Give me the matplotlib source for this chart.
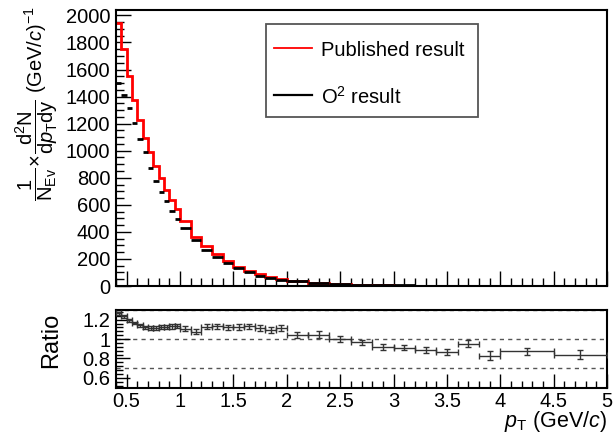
import matplotlib
matplotlib.use("Agg")
import matplotlib.pyplot as plt
from matplotlib.lines import Line2D
from matplotlib.patches import Rectangle
from matplotlib.ticker import MultipleLocator, FormatStrFormatter, FuncFormatter
import numpy as np

plt.rcParams['font.family'] = ['Liberation Sans', 'DejaVu Sans']
plt.rcParams['mathtext.fontset'] = 'custom'
plt.rcParams['mathtext.rm'] = 'Liberation Sans'
plt.rcParams['mathtext.it'] = 'Liberation Sans:italic'
plt.rcParams['mathtext.bf'] = 'Liberation Sans:bold'

# bin edges (GeV/c)
bin_edges = [0.40, 0.45, 0.50, 0.55, 0.60, 0.65, 0.70, 0.75, 0.80, 0.85, 0.90, 0.95,
             1.0, 1.1, 1.2, 1.3, 1.4, 1.5, 1.6, 1.7, 1.8, 1.9,
             2.0, 2.2, 2.4, 2.6, 2.8, 3.0, 3.2, 3.4, 3.6, 3.8, 4.0, 4.5, 5.0]

published = [1942, 1750, 1555, 1377, 1228, 1093, 990, 889, 796, 709, 635, 569,
             480, 362, 298, 239, 186, 142, 110, 88, 68, 51,
             36, 24, 13, 8.5, 5.5, 3.6, 2.3, 1.5, 1.0, 0.65, 0.35, 0.15]

o2_result = [1499, 1412, 1318, 1203, 1084, 993, 870, 778, 697, 628, 556, 497,
             430, 339, 268, 211, 167, 130, 100, 77, 61, 47,
             35, 23, 13, 9, 6, 4, 2.6, 1.7, 1.05, 0.78, 0.4, 0.18]

ratio = [1.265, 1.236, 1.195, 1.166, 1.142, 1.122, 1.115, 1.117, 1.121, 1.125, 1.130, 1.132,
         1.106, 1.077, 1.128, 1.130, 1.120, 1.124, 1.130, 1.113, 1.095, 1.113,
         1.040, 1.045, 1.000, 0.965, 0.920, 0.912, 0.890, 0.866, 0.954, 0.830, 0.873, 0.840]

ratio_err = [0.015, 0.015, 0.015, 0.015, 0.017, 0.017, 0.018, 0.020, 0.020, 0.020, 0.022, 0.022,
             0.025, 0.028, 0.028, 0.028, 0.028, 0.028, 0.030, 0.030, 0.032, 0.032,
             0.030, 0.035, 0.032, 0.030, 0.030, 0.030, 0.032, 0.032, 0.040, 0.045, 0.038, 0.045]

legend_labels = ['Published result', r'O$^{2}$ result']

edges = np.array(bin_edges)
lo, hi = edges[:-1], edges[1:]
centers = 0.5 * (lo + hi)
halfw = 0.5 * (hi - lo)

W, H = 614, 436
fig = plt.figure(figsize=(W / 100, H / 100), dpi=100)

def fx(px):
    return px / W

def fy(py):
    return 1 - py / H

ax = fig.add_axes([fx(116), fy(286), fx(607) - fx(116), fy(10) - fy(286)])
ax2 = fig.add_axes([fx(116), fy(387.5), fx(607) - fx(116), fy(310) - fy(387.5)])

TICKFS = 14.5

# top panel
ax.stairs(published, edges, color='#ff0000', lw=2, baseline=None, zorder=2)
ax.hlines(o2_result, lo, hi, color='black', lw=2, zorder=3)
ax.set_xlim(0.4, 5.0)
ax.set_ylim(0, 2040)
ax.yaxis.set_major_locator(MultipleLocator(200))
ax.yaxis.set_minor_locator(MultipleLocator(50))
ax.xaxis.set_major_locator(MultipleLocator(0.5))
ax.xaxis.set_minor_locator(MultipleLocator(0.1))
ax.tick_params(which='both', direction='in', top=False, right=False, labelsize=TICKFS)
ax.tick_params(which='major', length=11, width=1)
ax.tick_params(which='minor', length=5.5, width=1)
ax.tick_params(axis='y', pad=4)
ax.tick_params(axis='x', labelbottom=False)
ax.yaxis.set_major_formatter(FormatStrFormatter('%d'))
for s in ax.spines.values():
    s.set_linewidth(1.5)

# legend (drawn as a box with sample lines and labels)
fig.add_artist(Rectangle((fx(266), fy(117)), fx(478) - fx(266), fy(24) - fy(117),
                         transform=fig.transFigure, facecolor='white',
                         edgecolor='#555555', lw=1.3, zorder=5))
leg_colors = ['#ff0000', 'black']
leg_rows = [48, 95]
for lab, col, row in zip(legend_labels, leg_colors, leg_rows):
    fig.add_artist(Line2D([fx(274), fx(312)], [fy(row), fy(row)], transform=fig.transFigure,
                          color=col, lw=1.3 if col != 'black' else 1.6, zorder=6))
    fig.text(fx(321), fy(row), lab, ha='left', va='center_baseline', fontsize=14.5, zorder=6)

# ratio panel
for yv in [0.7, 1.0, 1.3]:
    ax2.axhline(yv, color='#555555', lw=1, ls=(0, (3, 3)), zorder=1)
ax2.errorbar(centers, ratio, xerr=halfw, yerr=ratio_err, fmt='none',
             ecolor='#333333', elinewidth=1, capsize=2, capthick=1, zorder=3)
ax2.set_xlim(0.4, 5.0)
ax2.set_ylim(0.5, 1.3)
ax2.yaxis.set_major_locator(MultipleLocator(0.2))
ax2.yaxis.set_minor_locator(MultipleLocator(0.04))
ax2.xaxis.set_major_locator(MultipleLocator(0.5))
ax2.xaxis.set_minor_locator(MultipleLocator(0.1))
ax2.tick_params(which='both', direction='in', top=False, right=False, labelsize=TICKFS)
ax2.tick_params(which='major', length=10, width=1)
ax2.tick_params(which='minor', length=5, width=1)
ax2.tick_params(axis='y', pad=4)
ax2.tick_params(axis='x', pad=3)
fmt = FuncFormatter(lambda v, p: ('%g' % round(v, 3)))
ax2.xaxis.set_major_formatter(fmt)
ax2.yaxis.set_major_formatter(fmt)
for s in ax2.spines.values():
    s.set_linewidth(1.5)

# labels
fig.text(fx(37), fy(6),
         r'$\dfrac{1}{\mathrm{N}_{\mathrm{Ev}}}\!\times\!\dfrac{\mathrm{d}^{2}\mathrm{N}}{\mathrm{d}p_{\mathrm{T}}\mathrm{dy}}$ (GeV/$c$)$^{-1}$',
         rotation=90, ha='center', va='top', fontsize=14.5)
fig.text(fx(51), fy(340), 'Ratio', rotation=90, ha='center', va='center', fontsize=17)
fig.text(fx(607), fy(427), r'$p_{\mathrm{T}}$ (GeV/$c$)', ha='right', va='baseline', fontsize=15.5)

fig.savefig('out.png', dpi=100)
